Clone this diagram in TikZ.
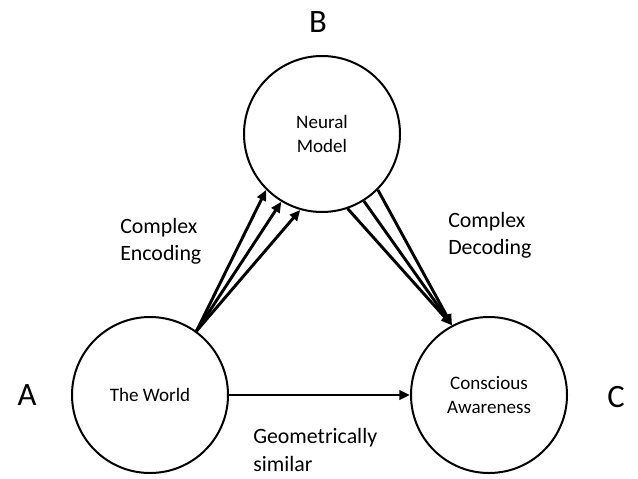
\documentclass[tikz,border=0pt]{standalone}
\usepackage{fontspec}
\setmainfont{Carlito}
\usetikzlibrary{arrows.meta}
\begin{document}
\begin{tikzpicture}[x=0.75pt,y=-0.75pt,
  circ/.style={circle,draw,line width=1.5pt,minimum size=156*0.75pt,inner sep=0pt,align=center,
    font=\fontsize{14.3}{18}\selectfont},
  lbl/.style={anchor=west,align=left,inner sep=0pt,font=\fontsize{16.4}{20.3}\selectfont},
  letter/.style={inner sep=0pt,font=\fontsize{24.5}{28}\selectfont},
  arr/.style={line width=2.2pt,-{Triangle[length=8pt,width=7pt]}}]
\useasboundingbox (0,0) rectangle (638,478);
\node[circ] (A) at (150,395) {The World};
\node[circ] (B) at (322,134) {Neural\\Model};
\node[circ] (C) at (489,395) {Conscious\\Awareness};
\node[letter] (la) at (27,395) {A};
\node[letter] (lb) at (318,22) {B};
\node[letter] (lc) at (616,397) {C};
\node[lbl] (enc) at (120,241) {Complex\\Encoding};
\node[lbl] (dec) at (448,235) {Complex\\Decoding};
\node[lbl] (geo) at (253,450) {Geometrically\\similar};
\draw[arr] (A.54) -- (B.225);
\draw[arr] (A.54) -- (B.239);
\draw[arr] (A.54) -- (B.254);
\draw[arr] (B.289) -- (C.118);
\draw[arr] (B.302) -- (C.118);
\draw[arr] (B.315) -- (C.118);
\draw[arr] (A) -- (C);
\end{tikzpicture}
\end{document}
